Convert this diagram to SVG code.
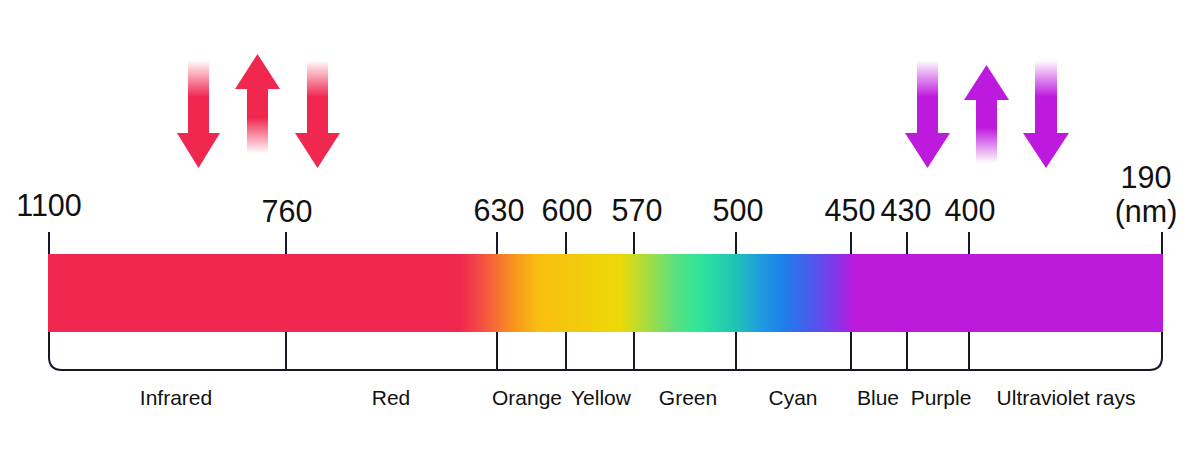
<svg xmlns="http://www.w3.org/2000/svg" width="1193" height="467" viewBox="0 0 1193 467">
<style>
.num{font-family:"Liberation Sans",Arial,sans-serif;font-size:30.5px;fill:#111;text-anchor:middle}
.lab{font-family:"Liberation Sans",Arial,sans-serif;font-size:21px;fill:#111;text-anchor:middle}
.tick{stroke:#141828;stroke-width:2;fill:none}
</style>
<defs>
<linearGradient id="spec" x1="48" y1="0" x2="1163" y2="0" gradientUnits="userSpaceOnUse">
<stop offset="0" stop-color="#F0284F"/>
<stop offset="0.3695" stop-color="#F0284F"/>
<stop offset="0.3875" stop-color="#F24B44"/>
<stop offset="0.4165" stop-color="#F7921F"/>
<stop offset="0.4390" stop-color="#F9BD10"/>
<stop offset="0.4710" stop-color="#F3C90E"/>
<stop offset="0.5130" stop-color="#EDD808"/>
<stop offset="0.5370" stop-color="#A8DC40"/>
<stop offset="0.5605" stop-color="#5FE07A"/>
<stop offset="0.5850" stop-color="#2EE49C"/>
<stop offset="0.6145" stop-color="#22C6B2"/>
<stop offset="0.6390" stop-color="#1E9BE0"/>
<stop offset="0.6595" stop-color="#1E7FEA"/>
<stop offset="0.6835" stop-color="#4A5BEC"/>
<stop offset="0.7040" stop-color="#7C3AEB"/>
<stop offset="0.7230" stop-color="#BB1ADB"/>
<stop offset="1" stop-color="#BB1ADB"/>
</linearGradient>
<linearGradient id="fadeDownR" x1="0" y1="0" x2="0" y2="1">
<stop offset="0" stop-color="#F0284F" stop-opacity="0"/>
<stop offset="0.5" stop-color="#F0284F" stop-opacity="1"/>
<stop offset="1" stop-color="#F0284F"/>
</linearGradient>
<linearGradient id="fadeUpR" x1="0" y1="0" x2="0" y2="1">
<stop offset="0" stop-color="#F0284F"/>
<stop offset="0.45" stop-color="#F0284F" stop-opacity="1"/>
<stop offset="1" stop-color="#F0284F" stop-opacity="0"/>
</linearGradient>
<linearGradient id="fadeDownP" x1="0" y1="0" x2="0" y2="1">
<stop offset="0" stop-color="#BE1ADD" stop-opacity="0"/>
<stop offset="0.5" stop-color="#BE1ADD" stop-opacity="1"/>
<stop offset="1" stop-color="#BE1ADD"/>
</linearGradient>
<linearGradient id="fadeUpP" x1="0" y1="0" x2="0" y2="1">
<stop offset="0" stop-color="#BE1ADD"/>
<stop offset="0.45" stop-color="#BE1ADD" stop-opacity="1"/>
<stop offset="1" stop-color="#BE1ADD" stop-opacity="0"/>
</linearGradient>
</defs>

<g id="arrows-ir">
<rect x="188" y="60" width="21" height="74" fill="url(#fadeDownR)"/>
<polygon points="177,133 220,133 198.5,168" fill="#F0284F"/>
<rect x="247" y="88" width="21" height="66" fill="url(#fadeUpR)"/>
<polygon points="235,89 280,89 257.5,54" fill="#F0284F"/>
<rect x="307" y="60" width="21" height="74" fill="url(#fadeDownR)"/>
<polygon points="295,133 340,133 317.5,168" fill="#F0284F"/>
</g>
<g id="arrows-uv">
<rect x="917" y="60" width="21" height="74" fill="url(#fadeDownP)"/>
<polygon points="905,133 950,133 927.5,168" fill="#BE1ADD"/>
<rect x="976" y="99" width="21" height="64" fill="url(#fadeUpP)"/>
<polygon points="964,100 1009,100 986.5,65" fill="#BE1ADD"/>
<rect x="1035" y="60" width="22" height="74" fill="url(#fadeDownP)"/>
<polygon points="1023,133 1069,133 1046,168" fill="#BE1ADD"/>
</g>

<g id="spectrum-bar">
<rect x="48" y="254" width="1115" height="78" fill="url(#spec)"/>
</g>

<g id="connectors">
<path class="tick" d="M49,232V254 M286,232V254 M497,232V254 M566,232V254 M634,232V254 M736,232V254 M851,232V254 M907,232V254 M969,232V254 M1162,232V254"/>
<path class="tick" d="M49,332V357Q49,370 62,370H1149Q1162,370 1162,357V332"/>
<path class="tick" d="M286,332V370 M497,332V370 M566,332V370 M634,332V370 M736,332V370 M851,332V370 M907,332V370 M969,332V370"/>
</g>

<g id="numbers">
<text class="num" x="49" y="216">1100</text>
<text class="num" x="287" y="222">760</text>
<text class="num" x="499" y="221">630</text>
<text class="num" x="567" y="221">600</text>
<text class="num" x="637" y="221">570</text>
<text class="num" x="738" y="221">500</text>
<text class="num" x="850" y="221">450</text>
<text class="num" x="906" y="221">430</text>
<text class="num" x="970" y="221">400</text>
<text class="num" x="1146" y="188">190</text>
<text class="num" x="1146" y="222">(nm)</text>
</g>

<g id="labels">
<text class="lab" x="176" y="405">Infrared</text>
<text class="lab" x="391" y="405">Red</text>
<text class="lab" x="527" y="405">Orange</text>
<text class="lab" x="601" y="405">Yellow</text>
<text class="lab" x="688" y="405">Green</text>
<text class="lab" x="793" y="405">Cyan</text>
<text class="lab" x="878" y="405">Blue</text>
<text class="lab" x="941" y="405">Purple</text>
<text class="lab" x="1066" y="405">Ultraviolet rays</text>
</g>
</svg>
